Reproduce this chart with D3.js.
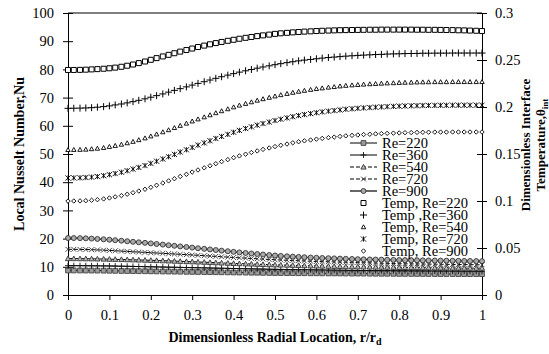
<!DOCTYPE html>
<html><head><meta charset="utf-8">
<script src="https://cdn.jsdelivr.net/npm/d3@7"></script>
<style>body{margin:0;background:#fff}svg{display:block}text{font-family:"Liberation Serif","Times New Roman",serif;fill:#000}</style>
</head><body>
<script>
// ---- data ----
const rVals = [0,0.014,0.029,0.043,0.057,0.071,0.086,0.1,0.114,0.129,0.143,0.157,0.171,0.186,0.2,0.214,0.229,0.243,0.257,0.271,0.286,0.3,0.314,0.329,0.343,0.357,0.371,0.386,0.4,0.414,0.429,0.443,0.457,0.471,0.486,0.5,0.514,0.529,0.543,0.557,0.571,0.586,0.6,0.614,0.629,0.643,0.657,0.671,0.686,0.7,0.714,0.729,0.743,0.757,0.771,0.786,0.8,0.814,0.829,0.843,0.857,0.871,0.886,0.9,0.914,0.929,0.943,0.957,0.971,0.986,1];

const nu220 = [8.70,8.70,8.69,8.68,8.67,8.65,8.63,8.60,8.57,8.54,8.51,8.49,8.46,8.43,8.40,8.37,8.34,8.31,8.29,8.26,8.23,8.20,8.17,8.14,8.11,8.09,8.06,8.03,8.00,7.97,7.94,7.91,7.89,7.86,7.83,7.80,7.79,7.77,7.76,7.74,7.73,7.71,7.70,7.69,7.67,7.66,7.64,7.63,7.61,7.60,7.59,7.57,7.56,7.54,7.53,7.51,7.50,7.49,7.49,7.48,7.47,7.46,7.46,7.45,7.44,7.44,7.43,7.42,7.41,7.41,7.40];
const nu360 = [10.40,10.40,10.39,10.38,10.36,10.34,10.32,10.30,10.26,10.21,10.17,10.13,10.09,10.04,10.00,9.96,9.91,9.87,9.83,9.79,9.74,9.70,9.66,9.61,9.57,9.53,9.49,9.44,9.40,9.36,9.31,9.27,9.23,9.19,9.14,9.10,9.07,9.04,9.01,8.99,8.96,8.93,8.90,8.87,8.84,8.81,8.79,8.76,8.73,8.70,8.69,8.67,8.66,8.64,8.63,8.61,8.60,8.59,8.57,8.56,8.54,8.53,8.51,8.50,8.49,8.47,8.46,8.44,8.43,8.41,8.40];
const nu540 = [12.90,12.90,12.88,12.86,12.83,12.79,12.75,12.70,12.65,12.59,12.53,12.47,12.41,12.36,12.30,12.23,12.16,12.09,12.01,11.94,11.87,11.80,11.71,11.63,11.54,11.46,11.37,11.29,11.20,11.13,11.06,10.99,10.91,10.84,10.77,10.70,10.64,10.59,10.53,10.47,10.41,10.36,10.30,10.26,10.21,10.17,10.13,10.09,10.04,10.00,9.97,9.94,9.91,9.89,9.86,9.83,9.80,9.77,9.74,9.71,9.69,9.66,9.63,9.60,9.59,9.57,9.56,9.54,9.53,9.51,9.50];
const nu720 = [16.20,16.19,16.17,16.13,16.07,16.00,15.91,15.80,15.68,15.56,15.45,15.34,15.23,15.11,15.00,14.89,14.77,14.66,14.54,14.43,14.31,14.20,14.07,13.94,13.81,13.69,13.56,13.43,13.30,13.18,13.07,12.95,12.84,12.72,12.61,12.50,12.41,12.32,12.24,12.15,12.07,11.98,11.90,11.84,11.79,11.73,11.67,11.61,11.56,11.50,11.44,11.39,11.33,11.27,11.21,11.16,11.10,11.07,11.04,11.01,10.99,10.96,10.93,10.90,10.87,10.84,10.81,10.79,10.76,10.73,10.70];
const nu900 = [20.20,20.19,20.16,20.10,20.00,19.88,19.75,19.60,19.43,19.25,19.06,18.87,18.68,18.49,18.30,18.09,17.87,17.66,17.45,17.23,17.02,16.80,16.58,16.37,16.16,15.94,15.73,15.51,15.30,15.10,14.91,14.72,14.53,14.35,14.17,14.00,13.86,13.73,13.61,13.50,13.39,13.29,13.20,13.12,13.05,12.98,12.91,12.84,12.77,12.70,12.65,12.61,12.57,12.53,12.49,12.45,12.40,12.37,12.34,12.31,12.28,12.25,12.22,12.20,12.17,12.14,12.11,12.09,12.06,12.03,12.00];

const temp220 = [0.2394,0.2394,0.2395,0.2397,0.2400,0.2403,0.2407,0.2412,0.2419,0.2428,0.2439,0.2452,0.2467,0.2484,0.2502,0.2520,0.2538,0.2555,0.2572,0.2589,0.2606,0.2622,0.2638,0.2653,0.2667,0.2680,0.2692,0.2704,0.2715,0.2726,0.2736,0.2745,0.2754,0.2762,0.2770,0.2778,0.2784,0.2789,0.2794,0.2798,0.2802,0.2805,0.2808,0.2811,0.2813,0.2815,0.2817,0.2818,0.2819,0.2820,0.2821,0.2822,0.2822,0.2823,0.2823,0.2823,0.2823,0.2823,0.2823,0.2822,0.2822,0.2821,0.2821,0.2820,0.2819,0.2818,0.2816,0.2815,0.2813,0.2811,0.2808];
const temp360 = [0.1986,0.1987,0.1988,0.1990,0.1993,0.1998,0.2004,0.2012,0.2022,0.2032,0.2044,0.2057,0.2071,0.2087,0.2104,0.2121,0.2139,0.2158,0.2177,0.2195,0.2214,0.2233,0.2251,0.2269,0.2287,0.2305,0.2322,0.2339,0.2355,0.2371,0.2385,0.2399,0.2413,0.2426,0.2438,0.2450,0.2461,0.2472,0.2482,0.2491,0.2499,0.2506,0.2513,0.2520,0.2526,0.2531,0.2536,0.2541,0.2545,0.2549,0.2552,0.2555,0.2558,0.2560,0.2563,0.2565,0.2566,0.2568,0.2569,0.2570,0.2572,0.2572,0.2573,0.2573,0.2573,0.2574,0.2574,0.2574,0.2574,0.2574,0.2574];
const temp540 = [0.1545,0.1546,0.1547,0.1549,0.1554,0.1559,0.1567,0.1578,0.1589,0.1602,0.1617,0.1632,0.1650,0.1669,0.1690,0.1711,0.1734,0.1756,0.1779,0.1802,0.1826,0.1849,0.1871,0.1893,0.1915,0.1937,0.1958,0.1979,0.1999,0.2018,0.2036,0.2053,0.2070,0.2086,0.2101,0.2115,0.2129,0.2142,0.2154,0.2165,0.2175,0.2185,0.2194,0.2201,0.2209,0.2215,0.2222,0.2228,0.2233,0.2237,0.2241,0.2245,0.2248,0.2251,0.2254,0.2256,0.2259,0.2261,0.2262,0.2264,0.2265,0.2266,0.2267,0.2267,0.2267,0.2268,0.2268,0.2268,0.2268,0.2268,0.2268];
const temp720 = [0.1245,0.1246,0.1247,0.1250,0.1254,0.1260,0.1269,0.1280,0.1292,0.1306,0.1322,0.1339,0.1357,0.1377,0.1400,0.1423,0.1447,0.1471,0.1496,0.1521,0.1545,0.1570,0.1594,0.1618,0.1641,0.1665,0.1687,0.1709,0.1731,0.1751,0.1771,0.1789,0.1807,0.1824,0.1840,0.1856,0.1870,0.1884,0.1897,0.1909,0.1920,0.1930,0.1939,0.1948,0.1956,0.1962,0.1969,0.1976,0.1981,0.1986,0.1990,0.1994,0.1998,0.2001,0.2004,0.2007,0.2009,0.2011,0.2013,0.2014,0.2016,0.2017,0.2017,0.2018,0.2018,0.2019,0.2019,0.2019,0.2019,0.2019,0.2019];
const temp900 = [0.0999,0.1000,0.1001,0.1003,0.1008,0.1014,0.1022,0.1032,0.1044,0.1057,0.1072,0.1088,0.1106,0.1125,0.1146,0.1168,0.1191,0.1214,0.1237,0.1261,0.1284,0.1308,0.1330,0.1353,0.1375,0.1397,0.1419,0.1440,0.1461,0.1480,0.1498,0.1516,0.1533,0.1549,0.1564,0.1579,0.1593,0.1606,0.1619,0.1630,0.1640,0.1649,0.1658,0.1666,0.1674,0.1680,0.1687,0.1693,0.1698,0.1702,0.1707,0.1710,0.1714,0.1717,0.1720,0.1722,0.1724,0.1727,0.1728,0.1730,0.1731,0.1732,0.1733,0.1733,0.1733,0.1734,0.1734,0.1734,0.1734,0.1734,0.1734];

const xTicks = [0,0.1,0.2,0.3,0.4,0.5,0.6,0.7,0.8,0.9,1];
const xTickLabels = ["0","0.1","0.2","0.3","0.4","0.5","0.6","0.7","0.8","0.9","1"];
const leftTicks = [0,10,20,30,40,50,60,70,80,90,100];
const rightTicks = [0,0.05,0.1,0.15,0.2,0.25,0.3];
const rightTickLabels = ["0","0.05","0.1","0.15","0.2","0.25","0.3"];
const nuLabels = ["Re=220","Re=360","Re=540","Re=720","Re=900"];
const tempLabels = ["Temp, Re=220","Temp ,Re=360","Temp, Re=540","Temp, Re=720","Temp, Re=900"];

// ---- layout ----
const W = 549, H = 354;
const svg = d3.select("body").append("svg").attr("width", W).attr("height", H);
const x = d3.scaleLinear().domain([0, 1]).range([68, 482]);
const yL = d3.scaleLinear().domain([0, 100]).range([295, 13]);
const yR = d3.scaleLinear().domain([0, 0.3]).range([295, 13]);

function markerPath(type, s) {
  switch (type) {
    case "square": return `M${-s},${-s}H${s}V${s}H${-s}Z`;
    case "plus": return `M${-s},0H${s}M0,${-s}V${s}`;
    case "tri": return `M0,${-s}L${s},${s*0.8}L${-s},${s*0.8}Z`;
    case "x": return `M${-s},${-s}L${s},${s}M${s},${-s}L${-s},${s}`;
    case "star": return `M${-s},${-s}L${s},${s}M${s},${-s}L${-s},${s}M0,${-s}V${s}`;
    case "diamond": return `M0,${-s}L${s},0L0,${s}L${-s},0Z`;
    case "circle": return `M${s},0A${s},${s} 0 1,1 ${-s},0A${s},${s} 0 1,1 ${s},0Z`;
  }
}

const nuSeries = [
  {vals: nu220, label: nuLabels[0], m: "square", s: 2.4, fill: "#9a9a9a", stroke: "#444", dash: null, lw: 1},
  {vals: nu360, label: nuLabels[1], m: "plus", s: 3, fill: "none", stroke: "#111", dash: null, lw: 1},
  {vals: nu540, label: nuLabels[2], m: "tri", s: 2.6, fill: "#bbb", stroke: "#333", dash: "4,2", lw: 1},
  {vals: nu720, label: nuLabels[3], m: "x", s: 2.4, fill: "none", stroke: "#333", dash: "4,2", lw: 1},
  {vals: nu900, label: nuLabels[4], m: "circle", s: 2.5, fill: "#aaa", stroke: "#333", dash: null, lw: 1.2}
];
const tempSeries = [
  {vals: temp220, label: tempLabels[0], m: "square", s: 2.5, fill: "#fff", stroke: "#000", lw: 1},
  {vals: temp360, label: tempLabels[1], m: "plus", s: 3.5, fill: "none", stroke: "#000", lw: 1},
  {vals: temp540, label: tempLabels[2], m: "tri", s: 2.2, fill: "#fff", stroke: "#000", lw: 0.9},
  {vals: temp720, label: tempLabels[3], m: "star", s: 2.6, fill: "none", stroke: "#000", lw: 0.9},
  {vals: temp900, label: tempLabels[4], m: "diamond", s: 2.2, fill: "#fff", stroke: "#000", lw: 0.9}
];

// ---- axes ----
const font = "'Liberation Serif','Times New Roman',serif";
const gL = svg.append("g").attr("transform", `translate(${x(0)},0)`)
  .call(d3.axisLeft(yL).tickValues(leftTicks).tickFormat(d3.format("d")).tickSizeOuter(0).tickSize(5).tickPadding(9));
gL.selectAll(".tick line").attr("x1", -5).attr("x2", 5);
const gR = svg.append("g").attr("transform", `translate(${x(1)},0)`)
  .call(d3.axisRight(yR).tickValues(rightTicks).tickFormat((d,i) => rightTickLabels[i]).tickSizeOuter(0).tickSize(5).tickPadding(8));
gR.selectAll(".tick line").attr("x1", -5).attr("x2", 5);
const gB = svg.append("g").attr("transform", `translate(0,${yL(0)})`)
  .call(d3.axisBottom(x).tickValues(xTicks).tickFormat((d,i) => xTickLabels[i]).tickSizeOuter(0).tickSize(5).tickPadding(10));
[gL, gR, gB].forEach(g => {
  g.selectAll("text").style("font-family", font).style("font-size", "14.5px").attr("fill", "#000");
  g.selectAll("line,path").attr("stroke", "#000").attr("stroke-width", 1);
});
// top border
svg.append("line").attr("x1", x(0)).attr("x2", x(1)).attr("y1", yL(100)).attr("y2", yL(100))
  .attr("stroke", "#000");

// ---- series ----
const lineL = d3.line().x((d,i) => x(rVals[i])).y(d => yL(d));
nuSeries.forEach(s => {
  svg.append("path").attr("d", lineL(s.vals)).attr("fill", "none").attr("stroke", "#000")
    .attr("stroke-width", s.lw).attr("stroke-dasharray", s.dash);
});
nuSeries.forEach(s => {
  svg.append("g").selectAll("path").data(s.vals).join("path")
    .attr("transform", (d,i) => `translate(${x(rVals[i])},${yL(d)})`)
    .attr("d", markerPath(s.m, s.s)).attr("fill", s.fill).attr("stroke", s.stroke).attr("stroke-width", 0.9);
});
tempSeries.forEach(s => {
  svg.append("g").selectAll("path").data(s.vals).join("path")
    .attr("transform", (d,i) => `translate(${x(rVals[i])},${yR(d)})`)
    .attr("d", markerPath(s.m, s.s)).attr("fill", s.fill).attr("stroke", s.stroke).attr("stroke-width", s.lw);
});

// ---- legend ----
const lg = svg.append("g");
const ly0 = 143, ldy = 12;
nuSeries.forEach((s, i) => {
  const yy = ly0 + i * ldy;
  lg.append("line").attr("x1", 350).attr("x2", 377).attr("y1", yy).attr("y2", yy)
    .attr("stroke", "#000").attr("stroke-width", s.lw).attr("stroke-dasharray", s.dash);
  lg.append("path").attr("transform", `translate(363.5,${yy})`).attr("d", markerPath(s.m, s.s))
    .attr("fill", s.fill).attr("stroke", s.stroke).attr("stroke-width", 0.9);
  lg.append("text").attr("x", 382).attr("y", yy + 5).style("font-size", "14.5px").text(s.label);
});
tempSeries.forEach((s, i) => {
  const yy = ly0 + (i + 5) * ldy;
  lg.append("path").attr("transform", `translate(363.5,${yy})`).attr("d", markerPath(s.m, s.s))
    .attr("fill", s.fill).attr("stroke", s.stroke).attr("stroke-width", s.lw);
  lg.append("text").attr("x", 382).attr("y", yy + 5).style("font-size", "14.5px").text(s.label);
});

// ---- titles ----
const xt = svg.append("text").attr("x", 275).attr("y", 342).attr("text-anchor", "middle")
  .style("font-size", "14px").style("font-weight", "bold");
xt.append("tspan").text("Dimensionless Radial Location, r/r");
xt.append("tspan").attr("dy", 3).style("font-size", "10px").text("d");

svg.append("text").attr("transform", `translate(24,154) rotate(-90)`).attr("text-anchor", "middle")
  .style("font-size", "14px").style("font-weight", "bold").text("Local Nusselt Number,Nu");

svg.append("text").attr("transform", `translate(530,145) rotate(-90)`).attr("text-anchor", "middle")
  .style("font-size", "13px").style("font-weight", "bold").text("Dimensionless Interface");
const rt = svg.append("text").attr("transform", `translate(545,145) rotate(-90)`).attr("text-anchor", "middle")
  .style("font-size", "13px").style("font-weight", "bold");
rt.append("tspan").text("Temperature,\u03B8");
rt.append("tspan").attr("dy", 3).style("font-size", "9px").text("int");
</script>
</body></html>
